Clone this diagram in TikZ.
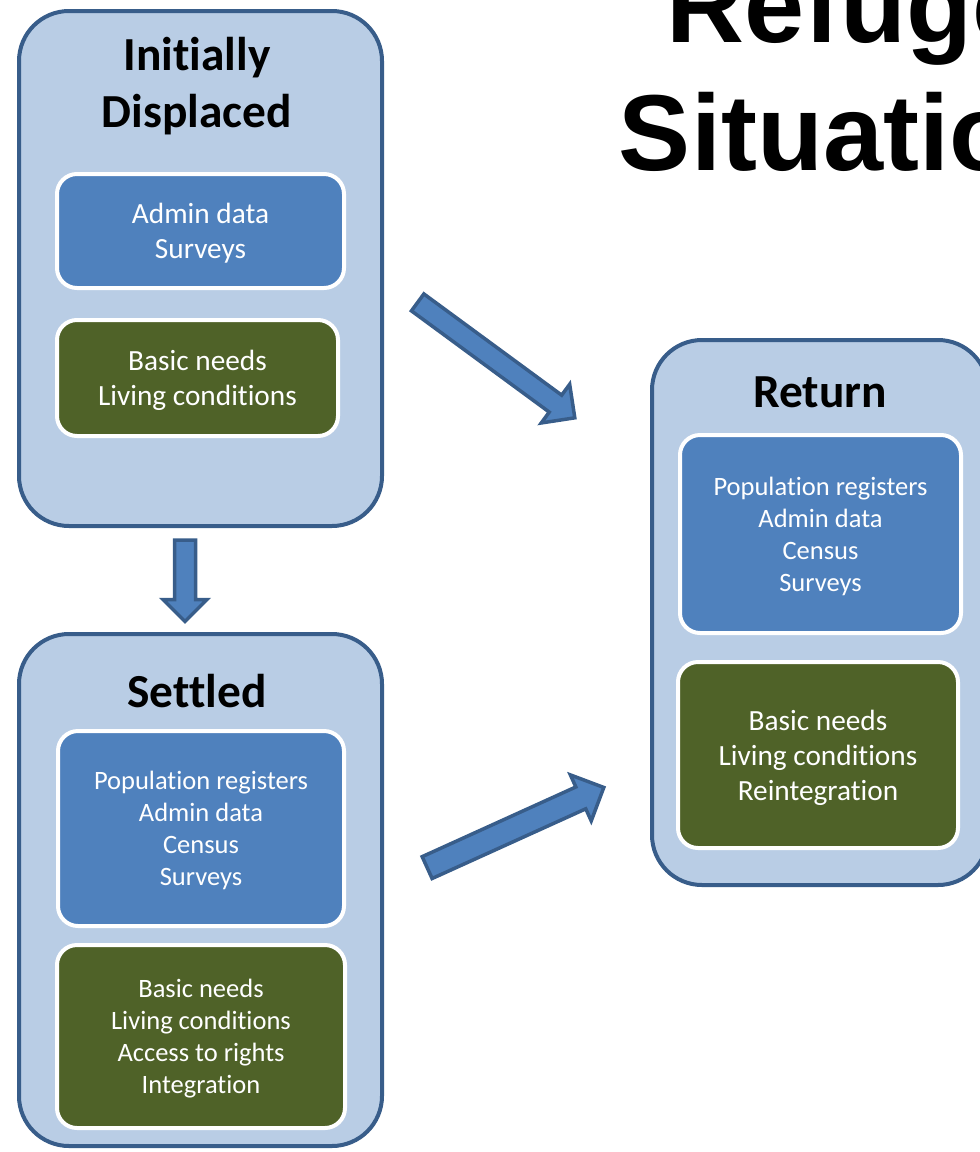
\documentclass[tikz,border=0pt]{standalone}
\usepackage{fontspec}
\setmainfont{Carlito}[Ligatures=NoCommon]
\newfontfamily\titlefont{Liberation Sans}
\usetikzlibrary{shapes.arrows}

\definecolor{panelfill}{HTML}{B9CDE5}
\definecolor{panelline}{HTML}{385D8A}
\definecolor{datablue}{HTML}{4F81BD}
\definecolor{needgreen}{HTML}{4F6228}

\tikzset{
  panel/.style={draw=panelline, fill=panelfill, line width=4pt, rounded corners=50pt, inner sep=0pt},
  databox/.style={draw=white, fill=datablue, line width=4pt, rounded corners=20pt, inner sep=0pt, text=white, text depth=0pt, align=center},
  needbox/.style={databox, fill=needgreen},
  bigtext/.style={font=\fontsize{29.3}{35}\selectfont},
  smalltext/.style={font=\fontsize{26.5}{32}\selectfont},
  heading/.style={font=\fontsize{47.4}{57}\selectfont\bfseries, align=center},
  flow/.style={single arrow, draw=panelline, fill=datablue, line width=3.5pt, inner sep=0pt}
}

\begin{document}
\begin{tikzpicture}[x=1pt, y=-1pt]
  \useasboundingbox (0,0) rectangle (980,1152);
  \clip (0,0) rectangle (980,1152);
  % title
  \node [font=\titlefont\bfseries\fontsize{108}{128}\selectfont, align=center, anchor=base] (title) at (880, 170) {Refugee\\Situations};
  % panels
  \node [panel, minimum width=363pt, minimum height=515pt] (displaced) at (200.5, 268.5) {};
  \node [panel, minimum width=363pt, minimum height=512pt] (settled) at (200.5, 890) {};
  \node [panel, minimum width=336pt, minimum height=545pt] (return) at (820, 612.5) {};
  \node [heading] (displacedhead) at (197, 86) {Initially\\Displaced};
  \node [heading, anchor=base] (settledhead) at (197, 707) {Settled};
  \node [heading, anchor=base] (returnhead) at (820, 407) {Return};
  % data and needs
  \node [databox, bigtext, minimum width=287pt, minimum height=114pt] (displaceddata) at (200.5, 231) {Admin data\\Surveys};
  \node [needbox, bigtext, minimum width=281pt, minimum height=116pt] (displacedneeds) at (197.5, 378) {Basic needs\\Living conditions};
  \node [databox, smalltext, minimum width=286pt, minimum height=195pt] (settleddata) at (201, 828.5) {Population registers\\Admin data\\Census\\Surveys};
  \node [needbox, smalltext, minimum width=288pt, minimum height=183pt] (settledneeds) at (201, 1036.5) {Basic needs\\Living conditions\\Access to rights\\Integration};
  \node [databox, smalltext, minimum width=281pt, minimum height=198pt] (returndata) at (820.5, 534) {Population registers\\Admin data\\Census\\Surveys};
  \node [needbox, bigtext, minimum width=280pt, minimum height=186pt] (returnneeds) at (818, 755) {Basic needs\\Living conditions\\Reintegration};
  % arrows
  \node [flow, minimum height=195pt, inner ysep=8.75pt, single arrow head extend=13.5pt, rotate=-36.3] (displacedreturn) at (492, 357) {};
  \node [flow, minimum height=81.5pt, inner ysep=8.75pt, single arrow head extend=11.5pt, rotate=-90] (displacedsettled) at (185, 575.5) {};
  \node [flow, minimum height=194pt, inner ysep=10.25pt, single arrow head extend=13.25pt, rotate=24.4] (settledreturn) at (510, 830) {};
\end{tikzpicture}
\end{document}
